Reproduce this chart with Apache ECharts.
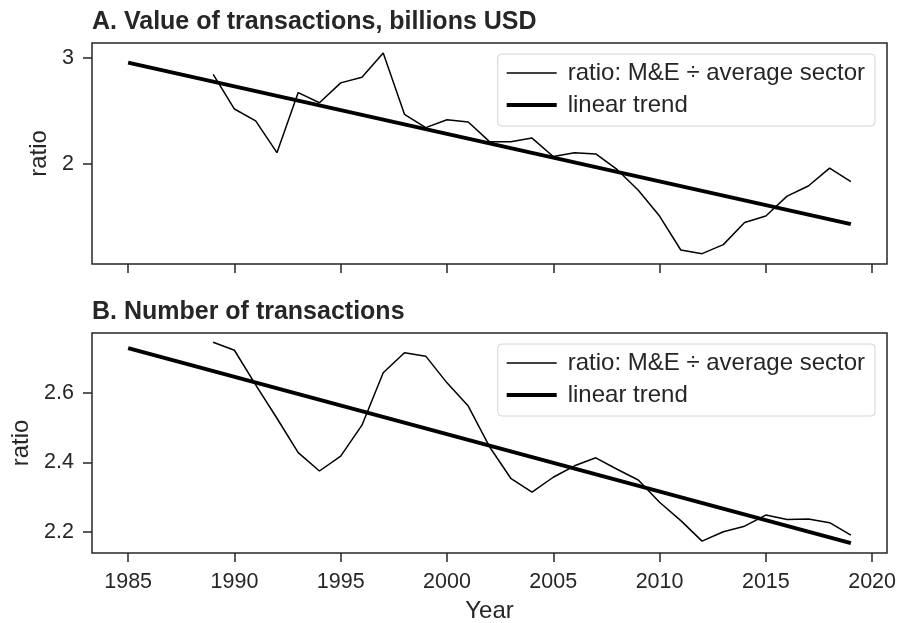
<!DOCTYPE html>
<html>
<head>
<meta charset="utf-8">
<script src="https://cdn.jsdelivr.net/npm/echarts@6/dist/echarts.min.js"></script>
<style>
  html, body { margin: 0; padding: 0; background: #fff; }
  #main { width: 899px; height: 623px; }
</style>
</head>
<body>
<div id="main"></div>
<script>
// years with observed ratios
const years = [1989, 1990, 1991, 1992, 1993, 1994, 1995, 1996, 1997, 1998, 1999,
  2000, 2001, 2002, 2003, 2004, 2005, 2006, 2007, 2008, 2009,
  2010, 2011, 2012, 2013, 2014, 2015, 2016, 2017, 2018, 2019]

// A. value of transactions (log axis)
const valueRatio = [2.82, 2.47, 2.36, 2.09, 2.63, 2.53, 2.73, 2.79, 3.06, 2.42, 2.30,
  2.37, 2.35, 2.18, 2.18, 2.21, 2.06, 2.09, 2.08, 1.96, 1.81,
  1.64, 1.44, 1.42, 1.47, 1.60, 1.64, 1.77, 1.84, 1.97, 1.87]

// B. number of transactions
const countRatio = [2.746, 2.723, 2.623, 2.527, 2.428, 2.375, 2.418, 2.507, 2.658, 2.716, 2.706,
  2.629, 2.562, 2.445, 2.354, 2.314, 2.357, 2.390, 2.413, 2.380, 2.349,
  2.285, 2.232, 2.173, 2.200, 2.216, 2.248, 2.235, 2.237, 2.226, 2.190]

// trend end points
const trendYears = [1985, 2019]
const valueTrend = [2.95, 1.59]
const countTrend = [2.729, 2.167]

// tick labels
const yearTicks = [1985, 1990, 1995, 2000, 2005, 2010, 2015, 2020]
const valueTicks = [2, 3]
const countTicks = [2.2, 2.4, 2.6]

const ratioName = 'ratio: M&E \u00f7 average sector'
const trendName = 'linear trend'

const ink = '#262626'
const font = '"Liberation Sans", Arial, sans-serif'

function pairs(xs, ys) {
  return xs.map((x, i) => [x, ys[i]])
}

function xAxisOf(gridIndex, withLabels) {
  return {
    type: 'value',
    gridIndex: gridIndex,
    min: 1983.3,
    max: 2020.7,
    axisLine: { show: false },
    splitLine: { show: false },
    axisTick: {
      show: true,
      length: 9,
      customValues: yearTicks,
      lineStyle: { color: ink, width: 1.5 },
    },
    axisLabel: {
      show: withLabels,
      customValues: yearTicks,
      fontSize: 21.5,
      fontFamily: font,
      color: ink,
      margin: 18,
      formatter: (v) => String(v),
    },
    name: withLabels ? 'Year' : '',
    nameLocation: 'middle',
    nameGap: 46,
    nameTextStyle: { fontSize: 24, fontFamily: font, color: ink },
  }
}

function legendOf(top) {
  return {
    orient: 'vertical',
    right: 24,
    top: top,
    padding: [7, 10, 9, 7],
    itemWidth: 50,
    itemHeight: 14,
    itemGap: 8,
    borderColor: '#d4d4d4',
    borderWidth: 1,
    borderRadius: 4,
    backgroundColor: '#fff',
    lineStyle: { width: 'inherit' },
    itemStyle: { opacity: 0 },
    textStyle: { fontSize: 24, fontFamily: font, color: ink, padding: [0, 0, 0, 6] },
    data: [ratioName, trendName],
    selectedMode: false,
  }
}

var myChart = echarts.init(document.getElementById('main'))
myChart.setOption({
  animation: false,
  backgroundColor: '#fff',
  title: [
    {
      text: 'A. Value of transactions, billions USD',
      left: 87,
      top: 5,
      textStyle: { fontSize: 25, fontWeight: 'bold', fontFamily: font, color: ink },
    },
    {
      text: 'B. Number of transactions',
      left: 87,
      top: 295,
      textStyle: { fontSize: 25, fontWeight: 'bold', fontFamily: font, color: ink },
    },
  ],
  legend: [legendOf(54), legendOf(344)],
  grid: [
    { left: 92, top: 43, width: 795, height: 221, show: true, borderColor: ink, borderWidth: 1.5, backgroundColor: 'transparent', outerBoundsMode: 'none' },
    { left: 92, top: 333, width: 795, height: 220, show: true, borderColor: ink, borderWidth: 1.5, backgroundColor: 'transparent', outerBoundsMode: 'none' },
  ],
  xAxis: [xAxisOf(0, false), xAxisOf(1, true)],
  yAxis: [
    {
      type: 'log',
      logBase: 10,
      gridIndex: 0,
      min: 1.365,
      max: 3.18,
      axisLine: { show: false },
      splitLine: { show: false },
      minorTick: { show: false },
      axisTick: { show: true, length: 9, customValues: valueTicks, lineStyle: { color: ink, width: 1.5 } },
      axisLabel: { customValues: valueTicks, fontSize: 21.5, fontFamily: font, color: ink, margin: 18, formatter: (v) => String(v) },
      name: 'ratio',
      nameLocation: 'middle',
      nameGap: 30,
      nameTextStyle: { fontSize: 24, fontFamily: font, color: ink },
    },
    {
      type: 'value',
      gridIndex: 1,
      min: 2.1387,
      max: 2.7727,
      axisLine: { show: false },
      splitLine: { show: false },
      axisTick: { show: true, length: 9, customValues: countTicks, lineStyle: { color: ink, width: 1.5 } },
      axisLabel: { customValues: countTicks, fontSize: 21.5, fontFamily: font, color: ink, margin: 18, formatter: (v) => v.toFixed(1) },
      name: 'ratio',
      nameLocation: 'middle',
      nameGap: 53,
      nameTextStyle: { fontSize: 24, fontFamily: font, color: ink },
    },
  ],
  series: [
    {
      name: ratioName, type: 'line', xAxisIndex: 0, yAxisIndex: 0, symbol: 'none',
      data: pairs(years, valueRatio), lineStyle: { color: '#000', width: 1.5 }, itemStyle: { color: '#000' },
    },
    {
      name: trendName, type: 'line', xAxisIndex: 0, yAxisIndex: 0, symbol: 'none',
      data: pairs(trendYears, valueTrend), lineStyle: { color: '#000', width: 4 }, itemStyle: { color: '#000' },
    },
    {
      name: ratioName, type: 'line', xAxisIndex: 1, yAxisIndex: 1, symbol: 'none',
      data: pairs(years, countRatio), lineStyle: { color: '#000', width: 1.5 }, itemStyle: { color: '#000' },
    },
    {
      name: trendName, type: 'line', xAxisIndex: 1, yAxisIndex: 1, symbol: 'none',
      data: pairs(trendYears, countTrend), lineStyle: { color: '#000', width: 4 }, itemStyle: { color: '#000' },
    },
  ],
})
</script>
</body>
</html>
